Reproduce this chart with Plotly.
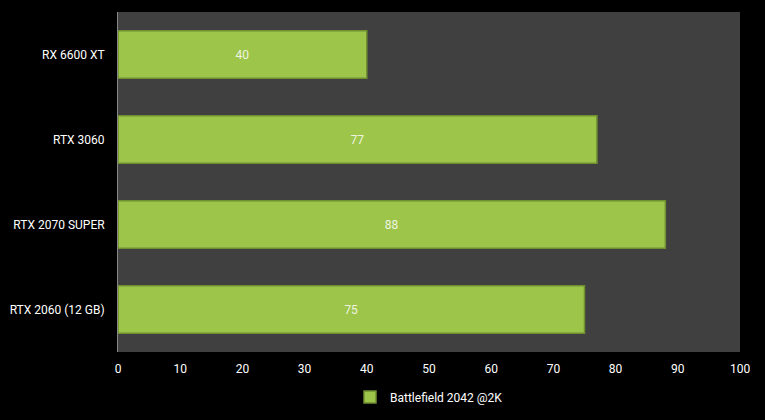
import plotly.graph_objects as go

# === Data ===
GPUS = ['RX 6600 XT', 'RTX 3060', 'RTX 2070 SUPER', 'RTX 2060 (12 GB)']
FPS = [40, 77, 88, 75]
SERIES_NAME = 'Battlefield 2042 @2K'
X_TICKS = [0, 10, 20, 30, 40, 50, 60, 70, 80, 90, 100]

FONT = 'Liberation Sans Narrow, Roboto, Arial'

fig = go.Figure()
fig.add_trace(go.Bar(
    y=GPUS,
    x=FPS,
    orientation='h',
    name=SERIES_NAME,
    text=FPS,
    textposition='inside',
    insidetextanchor='middle',
    textfont=dict(color='#eef4e0', size=12, family=FONT),
    marker=dict(color='#9cc54a', line=dict(color='#6f8f30', width=1.5)),
    width=0.56,
    showlegend=True,
))

fig.update_layout(
    width=765,
    height=420,
    paper_bgcolor='black',
    plot_bgcolor='#404040',
    margin=dict(l=118, r=25, t=12, b=68, autoexpand=False),
    font=dict(family=FONT, color='white', size=12),
    showlegend=True,
    legend=dict(orientation='h', x=0.5, xanchor='center', y=-0.09, yanchor='top',
                font=dict(size=12, color='white'), itemwidth=30),
    bargap=0.44,
)

fig.update_xaxes(range=[0, 100], tickvals=X_TICKS, showgrid=False, zeroline=False,
                 showline=False, ticks='', automargin=False, ticklabelstandoff=8,
                 tickfont=dict(size=12, color='white'))
fig.update_yaxes(categoryorder='array', categoryarray=GPUS[::-1], showgrid=False,
                 showline=True, linecolor='#888888', linewidth=1, ticks='',
                 automargin=False, ticklabelstandoff=10,
                 tickfont=dict(size=12, color='white'))

# page has a default body margin; remove it so the figure fills the window
fig.write_html("out.html", config={'displayModeBar': False},
               post_script="document.body.style.margin='0';document.body.style.background='black';")
